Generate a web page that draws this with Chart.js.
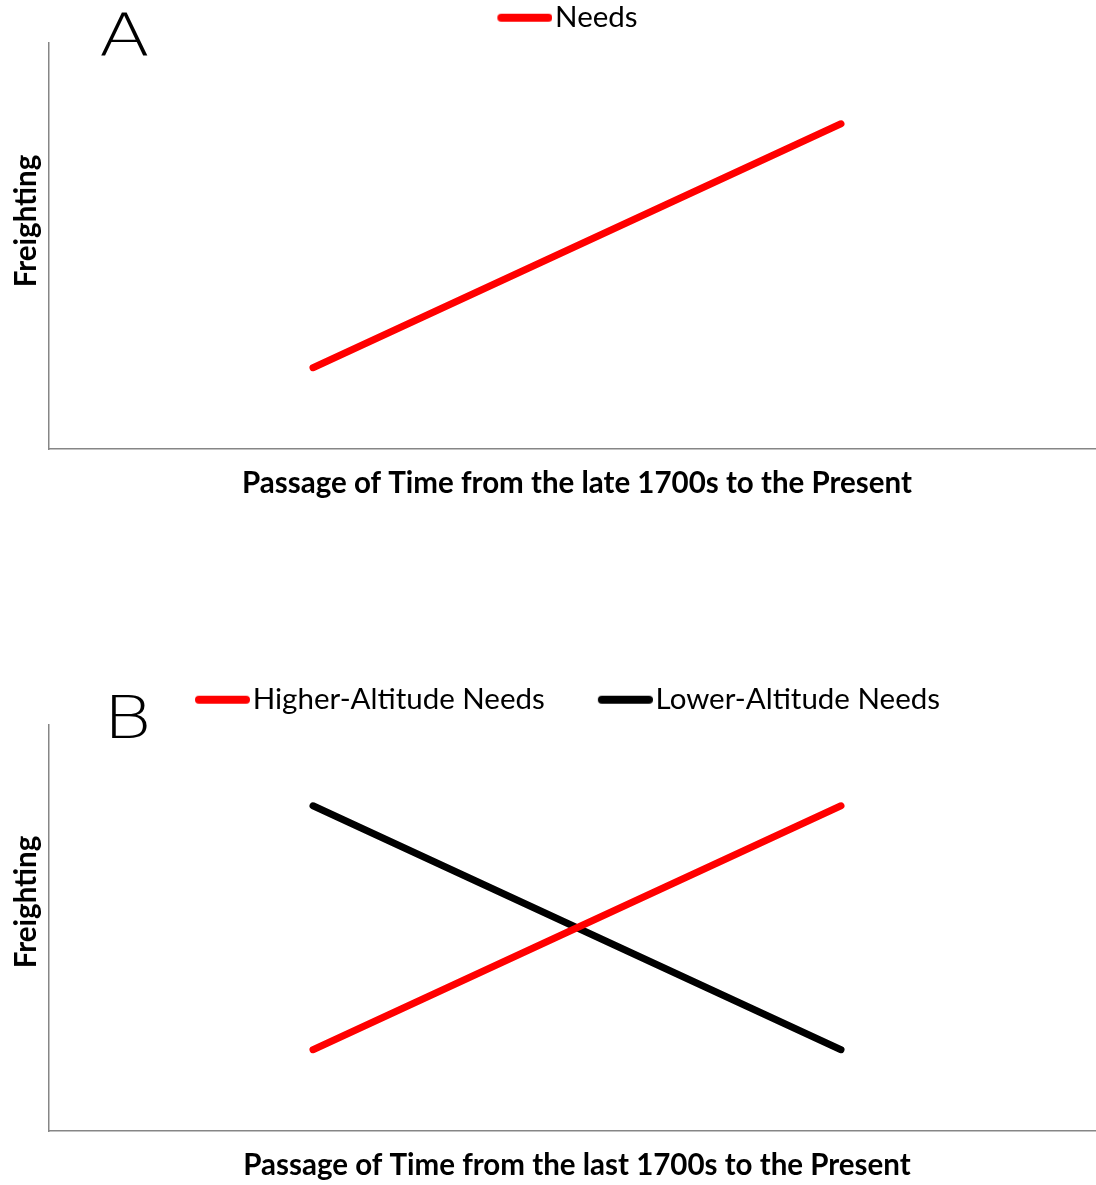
<!DOCTYPE html>
<html>
<head>
<meta charset="utf-8">
<script src="https://cdn.jsdelivr.net/npm/chart.js@4"></script>
<style>
  html, body { margin: 0; padding: 0; background: #fff; }
  body { width: 1096px; height: 1185px; overflow: hidden; position: relative; }
  .panel { position: absolute; left: 0; }
  .tag { position: absolute; font-family: "DejaVu Sans", sans-serif; font-size: 58px; line-height: 1; color: #000;
         font-weight: 200; transform: scaleX(1.28); transform-origin: 0 0; }
  .ytitle { position: absolute; width: 200px; height: 36px; line-height: 36px; text-align: center;
            font-family: Lato, "Open Sans", sans-serif; font-weight: bold; font-size: 29.5px; color: #000;
            transform: rotate(-90deg); transform-origin: 50% 50%; white-space: nowrap; }
</style>
</head>
<body>
<div class="panel" style="top:-7px"><canvas id="chartA" width="1105" height="530"></canvas></div>
<div class="panel" style="top:629px"><canvas id="chartB" width="1105" height="578"></canvas></div>
<div class="tag" style="left:99px;top:7px">A</div>
<div class="tag" style="left:103px;top:689px">B</div>
<div class="ytitle" id="ytA" style="left:-75px;top:203px"></div>
<div class="ytitle" id="ytB" style="left:-75px;top:884px"></div>
<script>
// ---- data ----
const timePoints = [1, 3];
const needsA = [1, 4];
const higherNeedsB = [1, 4];
const lowerNeedsB = [4, 1];
const seriesNamesA = ["Needs"];
const seriesNamesB = ["Higher-Altitude Needs", "Lower-Altitude Needs"];
const xTitleA = "Passage of Time from the late 1700s to the Present";
const xTitleB = "Passage of Time from the last 1700s to the Present";
const yTitle = "Freighting";
const xRange = [0, 4];
const yRange = [0, 5];

document.getElementById('ytA').textContent = yTitle;
document.getElementById('ytB').textContent = yTitle;

const FONT = "Lato, 'Open Sans', sans-serif";
const AXIS = "#868686";
const FS = 29.5;

function pts(xs, ys) { return xs.map((x, i) => ({ x: x, y: ys[i] })); }

// legend marker: a short thick line, sitting right next to its text
function markerImage(color) {
  const c = document.createElement('canvas');
  c.width = 64; c.height = 12;
  const g = c.getContext('2d');
  g.strokeStyle = color; g.lineWidth = 8; g.lineCap = 'round';
  g.beginPath(); g.moveTo(13, 6); g.lineTo(60, 6); g.stroke();
  return c;
}
const markers = {};

const legendShift = {
  id: 'legendShift',
  afterLayout(chart) {
    const l = chart.legend;
    if (l) { l.left -= 8; l.right -= 8; }
  }
};

function makeChart(id, datasets, xTitle, legendPad, bottomPad) {
  return new Chart(document.getElementById(id), {
    type: 'line',
    data: { datasets: datasets },
    options: {
      responsive: false,
      animation: false,
      devicePixelRatio: 1,
      layout: { padding: { left: 49, right: 0, top: 0, bottom: bottomPad } },
      plugins: {
        legend: {
          display: true,
          position: 'top',
          labels: {
            usePointStyle: true,
            pointStyleWidth: 40,
            padding: legendPad,
            color: '#000',
            font: { family: FONT, size: FS },
            generateLabels(chart) {
              const items = Chart.defaults.plugins.legend.labels.generateLabels(chart);
              items.forEach((it, i) => {
                const col = chart.data.datasets[i].borderColor;
                if (!markers[col]) markers[col] = markerImage(col);
                it.pointStyle = markers[col];
              });
              return items;
            }
          }
        },
        tooltip: { enabled: false }
      },
      elements: { point: { radius: 0 }, line: { tension: 0 } },
      scales: {
        x: {
          type: 'linear', min: xRange[0], max: xRange[1],
          grid: { display: false, drawTicks: false },
          ticks: { display: false },
          border: { display: true, color: AXIS, width: 1.5 },
          title: { display: true, text: xTitle, color: '#000',
                   font: { family: FONT, size: FS, weight: 'bold' },
                   padding: { top: 17, bottom: 0 } }
        },
        y: {
          min: yRange[0], max: yRange[1],
          grid: { display: false, drawTicks: false },
          ticks: { display: false },
          border: { display: true, color: AXIS, width: 1.5 },
          title: { display: false }
        }
      }
    },
    plugins: [legendShift]
  });
}

makeChart('chartA', [
  { label: seriesNamesA[0], data: pts(timePoints, needsA), borderColor: '#ff0000', backgroundColor: '#ff0000',
    borderWidth: 7, borderCapStyle: 'round', fill: false }
], xTitleA, 10, 21.6);

makeChart('chartB', [
  { label: seriesNamesB[0], data: pts(timePoints, higherNeedsB), borderColor: '#ff0000', backgroundColor: '#ff0000',
    borderWidth: 7, borderCapStyle: 'round', fill: false },
  { label: seriesNamesB[1], data: pts(timePoints, lowerNeedsB), borderColor: '#000000', backgroundColor: '#000000',
    borderWidth: 7, borderCapStyle: 'round', fill: false }
], xTitleB, 56, 23.6);
</script>
</body>
</html>
